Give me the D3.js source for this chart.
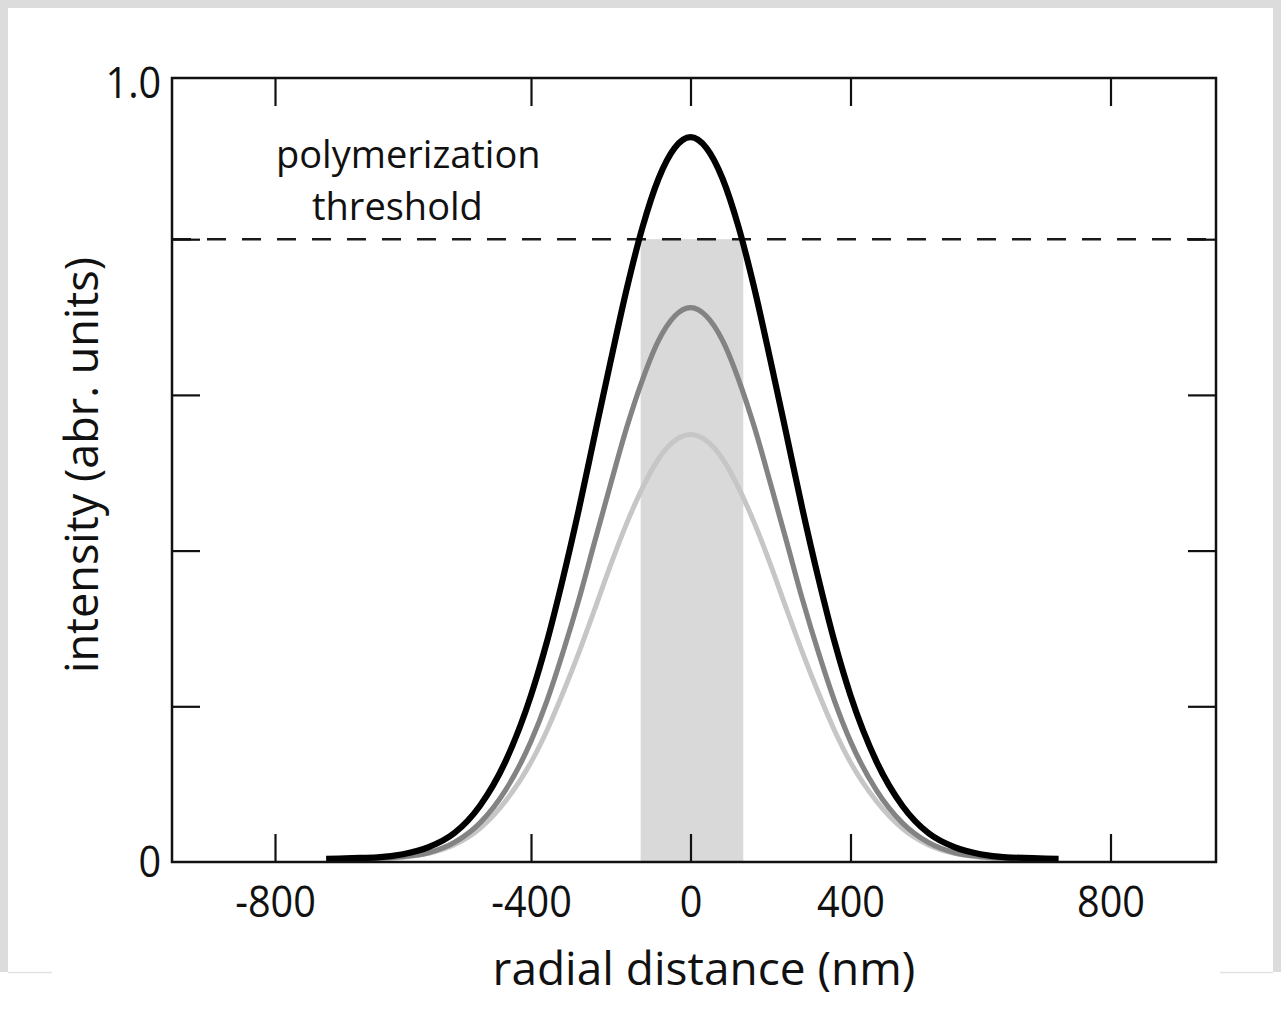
<!DOCTYPE html>
<html>
<head>
<meta charset="utf-8">
<script src="https://cdn.jsdelivr.net/npm/d3@7"></script>
<style>
  html, body { margin: 0; padding: 0; background: #ffffff; }
  svg { display: block; }
  text { font-family: "Open Sans", "Noto Sans", sans-serif; fill: #111; }
</style>
</head>
<body>
<script>
// ---------------- data ----------------
const radialNm = [-720, -680, -640, -600, -560, -520, -480, -440, -400, -360, -320, -280, -240, -200, -160, -120, -80, -40,
  0, 40, 80, 120, 160, 200, 240, 280, 320, 360, 400, 440, 480, 520, 560, 600, 640, 680, 720];

const intensityHigh = [0.004, 0.005, 0.006, 0.010, 0.019, 0.037, 0.072, 0.129, 0.214, 0.283, 0.364, 0.453, 0.549, 0.644, 0.736, 0.816, 0.878, 0.917,
  0.931, 0.917, 0.878, 0.816, 0.736, 0.644, 0.549, 0.453, 0.364, 0.283, 0.214, 0.129, 0.072, 0.037, 0.019, 0.010, 0.006, 0.005, 0.004];

const intensityMid = [0.003, 0.004, 0.005, 0.007, 0.012, 0.025, 0.050, 0.092, 0.155, 0.207, 0.269, 0.337, 0.412, 0.486, 0.558, 0.620, 0.670, 0.701,
  0.712, 0.701, 0.670, 0.620, 0.558, 0.486, 0.412, 0.337, 0.269, 0.207, 0.155, 0.092, 0.050, 0.025, 0.012, 0.007, 0.005, 0.004, 0.003];

const intensityLow = [0.003, 0.003, 0.004, 0.006, 0.011, 0.022, 0.043, 0.078, 0.128, 0.169, 0.217, 0.269, 0.325, 0.382, 0.435, 0.481, 0.518, 0.541,
  0.549, 0.541, 0.518, 0.481, 0.435, 0.382, 0.325, 0.269, 0.217, 0.169, 0.128, 0.078, 0.043, 0.022, 0.011, 0.006, 0.004, 0.003, 0.003];

const thresholdValue = 0.8;
const windowNm = [-125, 132];

const xTickValues = [-800, -400, 0, 400, 800];
const xTickLabels = ["-800", "-400", "0", "400", "800"];
const yTickValues = [0, 0.2, 0.4, 0.6, 0.8, 1.0];
const yTickLabels = ["0", "", "", "", "", "1.0"];

const xTitle = "radial distance (nm)";
const yTitle = "intensity (abr. units)";
const annotationLines = ["polymerization", "threshold"];

// ---------------- layout ----------------
const W = 1281, H = 1009;
const pLeft = 172, pRight = 1216, pTop = 78, pBottom = 862;

const svg = d3.select("body").append("svg").attr("width", W).attr("height", H);

// page frame (light grey border of the original screenshot)
svg.append("rect").attr("x", 0).attr("y", 0).attr("width", W).attr("height", H).attr("fill", "#ffffff");
svg.append("rect").attr("x", 0).attr("y", 0).attr("width", W).attr("height", 8).attr("fill", "#dcdcdc");
svg.append("rect").attr("x", 0).attr("y", 0).attr("width", 8).attr("height", 972).attr("fill", "#dcdcdc");
svg.append("rect").attr("x", 1273).attr("y", 0).attr("width", 8).attr("height", 972).attr("fill", "#dcdcdc");
svg.append("line").attr("x1", 8).attr("x2", 52).attr("y1", 972.5).attr("y2", 972.5).attr("stroke", "#e2e2e2").attr("stroke-width", 1.5);
svg.append("line").attr("x1", 1220).attr("x2", 1273).attr("y1", 972.5).attr("y2", 972.5).attr("stroke", "#e2e2e2").attr("stroke-width", 1.5);

// scales (the original x axis is piecewise: outer intervals are wider)
const x = d3.scaleLinear()
  .domain([-961, -800, -400, 0, 400, 800, 962])
  .range([pLeft, 275, 531, 690.5, 850.5, 1110.5, pRight]);
const y = d3.scaleLinear().domain([0, 1]).range([pBottom, 83.5]);

// shaded window below threshold
svg.append("rect")
  .attr("x", x(windowNm[0]))
  .attr("width", x(windowNm[1]) - x(windowNm[0]))
  .attr("y", y(thresholdValue))
  .attr("height", y(0) - y(thresholdValue))
  .attr("fill", "#dad9da");

// threshold dashed line
svg.append("line")
  .attr("x1", pLeft).attr("x2", pRight)
  .attr("y1", y(thresholdValue)).attr("y2", y(thresholdValue))
  .attr("stroke", "#1a1a1a").attr("stroke-width", 2.5)
  .attr("stroke-dasharray", "19,16");

// curves
const line = d3.line().x((d, i) => x(radialNm[i])).y(d => y(d)).curve(d3.curveMonotoneX);
const series = [
  { values: intensityLow, color: "#c6c6c6", width: 5 },
  { values: intensityMid, color: "#838383", width: 5.2 },
  { values: intensityHigh, color: "#000000", width: 6.2 }
];
series.forEach(s => {
  svg.append("path")
    .attr("d", line(s.values))
    .attr("fill", "none")
    .attr("stroke", s.color)
    .attr("stroke-width", s.width)
    .attr("stroke-linejoin", "round")
    .attr("stroke-linecap", "butt");
});

// axes (ticks point inward on all four sides)
function styleAxis(g) {
  g.select(".domain").remove();
  g.selectAll(".tick line").attr("stroke", "#111").attr("stroke-width", 2.2);
}

const gBottom = svg.append("g").attr("transform", `translate(0,${pBottom})`)
  .call(d3.axisBottom(x).tickValues(xTickValues).tickSizeInner(-28).tickSizeOuter(0).tickPadding(24)
    .tickFormat((d, i) => xTickLabels[i]));
styleAxis(gBottom);
gBottom.selectAll(".tick text")
  .attr("font-size", 44).attr("fill", "#111")
  .style("font-family", '"Open Sans", sans-serif')
  .attr("transform", "scale(0.9,1)");

const gTop = svg.append("g").attr("transform", `translate(0,${pTop})`)
  .call(d3.axisTop(x).tickValues(xTickValues).tickSizeInner(-28).tickSizeOuter(0).tickFormat(""));
styleAxis(gTop);

const gLeft = svg.append("g").attr("transform", `translate(${pLeft},0)`)
  .call(d3.axisLeft(y).tickValues(yTickValues).tickSizeInner(-28).tickSizeOuter(0).tickPadding(12)
    .tickFormat((d, i) => yTickLabels[i]));
styleAxis(gLeft);
gLeft.selectAll(".tick line").filter(d => d === 0 || d === 1).remove();
gLeft.selectAll(".tick text")
  .attr("font-size", 44).attr("fill", "#111")
  .style("font-family", '"Open Sans", sans-serif')
  .attr("transform", "scale(0.9,1)");

const gRight = svg.append("g").attr("transform", `translate(${pRight},0)`)
  .call(d3.axisRight(y).tickValues(yTickValues).tickSizeInner(-28).tickSizeOuter(0).tickFormat(""));
styleAxis(gRight);
gRight.selectAll(".tick line").filter(d => d === 0 || d === 1).remove();

// frame
svg.append("rect")
  .attr("x", pLeft).attr("y", pTop)
  .attr("width", pRight - pLeft).attr("height", pBottom - pTop)
  .attr("fill", "none").attr("stroke", "#111").attr("stroke-width", 2.5);

// titles
svg.append("text")
  .attr("x", 704).attr("y", 985)
  .attr("text-anchor", "middle")
  .attr("font-size", 46)
  .text(xTitle);

svg.append("text")
  .attr("transform", "translate(98,465) rotate(-90)")
  .attr("text-anchor", "middle")
  .attr("font-size", 45)
  .text(yTitle);

// annotation
svg.append("text").attr("x", 276).attr("y", 168).attr("font-size", 38).text(annotationLines[0]);
svg.append("text").attr("x", 312).attr("y", 220).attr("font-size", 38).text(annotationLines[1]);
</script>
</body>
</html>
